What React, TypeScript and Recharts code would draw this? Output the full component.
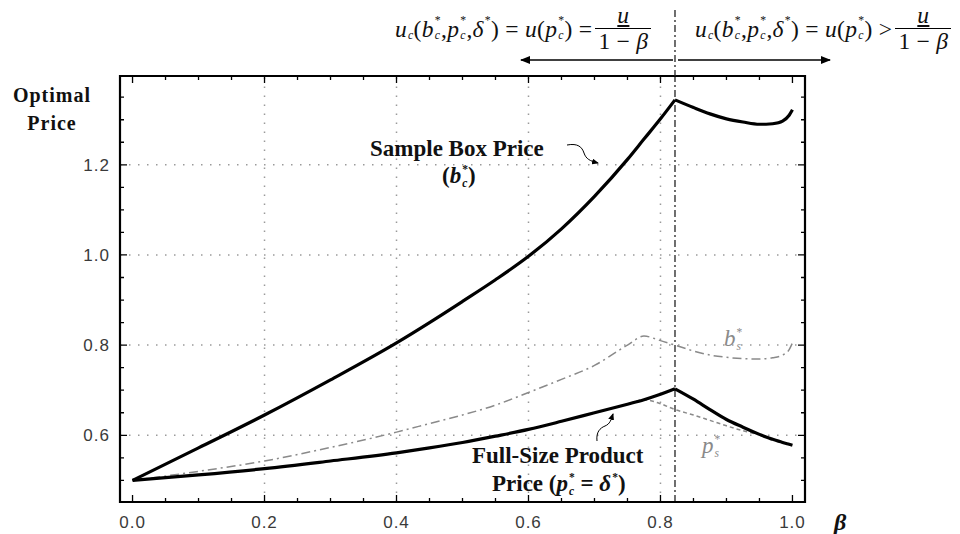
import React from 'react'
import { LineChart, Line, XAxis, YAxis, ReferenceLine } from 'recharts'

// beta grid and the four price curves
const beta = [0, 0.1, 0.2, 0.3, 0.4, 0.45, 0.5, 0.55, 0.6, 0.65, 0.7, 0.75, 0.775, 0.8, 0.822, 0.85, 0.875, 0.9, 0.925, 0.95, 0.96, 0.97, 0.985, 0.995, 1.0]
const sampleBox = [0.5, 0.572, 0.645, 0.723, 0.805, 0.85, 0.897, 0.945, 0.997, 1.058, 1.13, 1.212, 1.257, 1.302, 1.344, 1.327, 1.313, 1.302, 1.295, 1.29, 1.29, 1.291, 1.297, 1.31, 1.322]
const fullSize = [0.5, 0.512, 0.526, 0.543, 0.561, 0.572, 0.584, 0.598, 0.613, 0.631, 0.65, 0.669, 0.679, 0.691, 0.703, 0.68, 0.657, 0.635, 0.618, 0.602, 0.596, 0.591, 0.584, 0.58, 0.578]
const sampleBoxS = [0.5, 0.52, 0.543, 0.573, 0.607, 0.626, 0.645, 0.667, 0.695, 0.724, 0.755, 0.8, 0.82, 0.81, 0.8, 0.787, 0.778, 0.773, 0.77, 0.769, 0.77, 0.772, 0.778, 0.79, 0.805]
const fullSizeS = [0.5, 0.512, 0.526, 0.543, 0.561, 0.572, 0.584, 0.598, 0.613, 0.631, 0.65, 0.669, 0.679, 0.67, 0.657, 0.645, 0.633, 0.621, 0.61, 0.601, 0.597, null, null, null, null]

const xTicks = [0, 0.2, 0.4, 0.6, 0.8, 1.0]
const yTicks = [0.6, 0.8, 1.0, 1.2]
const xMinor = [0, 0.05, 0.1, 0.15, 0.2, 0.25, 0.3, 0.35, 0.4, 0.45, 0.5, 0.55, 0.6, 0.65, 0.7, 0.75, 0.8, 0.85, 0.9, 0.95, 1.0]
const yMinor = [0.5, 0.55, 0.6, 0.65, 0.7, 0.75, 0.8, 0.85, 0.9, 0.95, 1.0, 1.05, 1.1, 1.15, 1.2, 1.25, 1.3, 1.35]
const xGrid = [0.2, 0.4, 0.6, 0.8]
const yGrid = [0.6, 0.8, 1.0, 1.2]

const KINK = 0.822
const X0 = -0.019, X1 = 1.019
const Y0 = 0.452, Y1 = 1.397

// plot box (chart margins + axis sizes below)
const PL = 120, PT = 76, PW = 685, PH = 426
const sx = (v: number) => PL + ((v - X0) / (X1 - X0)) * PW
const sy = (v: number) => PT + ((Y1 - v) / (Y1 - Y0)) * PH

// curves with a corner at the kink are split in two so the corner stays sharp
const rows = beta.map((b, i) => ({
  beta: b,
  bcL: b <= KINK ? sampleBox[i] : null,
  bcR: b >= KINK ? sampleBox[i] : null,
  pcL: b <= KINK ? fullSize[i] : null,
  pcR: b >= KINK ? fullSize[i] : null,
  bs: sampleBoxS[i],
  ps: fullSizeS[i],
}))

const isMajor = (list: number[], v: number) => list.some(t => Math.abs(t - v) < 1e-9)
const tickLen = (major: boolean) => (major ? 7 : 4)

const serif = '"Liberation Serif", "Times New Roman", serif'
const sans = '"Liberation Sans", Arial, sans-serif'
const tickStyle = { fill: '#3a3a3a', fontSize: 17, fontFamily: sans, letterSpacing: 1 }
const fmt = (v: number) => v.toFixed(1)

const Sym = ({ b, sub, sup }: { b: string; sub?: string; sup?: string }) => (
  <span style={{ display: 'inline-flex', alignItems: 'center' }}>
    <span style={{ fontStyle: 'italic' }}>{b}</span>
    <span style={{ display: 'inline-flex', flexDirection: 'column', fontSize: '0.5em', lineHeight: 1.25, marginLeft: 1 }}>
      <span>{sup ?? '\u00a0'}</span>
      <span style={{ fontStyle: 'italic' }}>{sub ?? '\u00a0'}</span>
    </span>
  </span>
)

const Frac = () => (
  <span style={{ display: 'inline-flex', flexDirection: 'column', alignItems: 'center', marginLeft: 6 }}>
    <span style={{ borderBottom: '1.5px solid #000', lineHeight: 1.05, padding: '0 3px', width: '100%', textAlign: 'center' }}>
      <span style={{ fontStyle: 'italic', textDecoration: 'underline' }}>u</span>
    </span>
    <span style={{ lineHeight: 1.1 }}>1 − <i>β</i></span>
  </span>
)

const Formula = ({ rel, left }: { rel: string; left: number }) => (
  <div style={{ position: 'absolute', left, top: 4, height: 50, display: 'flex', alignItems: 'center', fontFamily: serif, fontSize: 23.5, letterSpacing: 0.3, whiteSpace: 'nowrap', color: '#111' }}>
    <Sym b="u" sub="c" />
    <span>(</span>
    <Sym b="b" sub="c" sup="*" />
    <span>,</span>
    <Sym b="p" sub="c" sup="*" />
    <span>,</span>
    <Sym b="δ" sup="*" />
    <span>)&nbsp;=&nbsp;</span>
    <i>u</i>
    <span>(</span>
    <Sym b="p" sub="c" sup="*" />
    <span>)&nbsp;{rel}</span>
    <Frac />
  </div>
)

const boldLabel = { position: 'absolute' as const, fontFamily: serif, fontWeight: 'bold' as const, fontSize: 23, whiteSpace: 'nowrap' as const, color: '#111' }

// inward ticks on all four sides of the plot
const PlotTicks = () => {
  const bottom = sy(Y0), top = sy(Y1), left = sx(X0), right = sx(X1)
  const segs: string[] = []
  xMinor.forEach(t => {
    const l = tickLen(isMajor(xTicks, t))
    segs.push(`M${sx(t)},${bottom}v${-l}`, `M${sx(t)},${top}v${l}`)
  })
  yMinor.forEach(t => {
    const l = tickLen(isMajor(yTicks, t))
    segs.push(`M${left},${sy(t)}h${l}`, `M${right},${sy(t)}h${-l}`)
  })
  return (
    <g>
      <path d={`M${left},${top}H${right}V${bottom}H${left}Z`} fill="none" stroke="#000" strokeWidth={2.2} />
      <path d={segs.join('')} fill="none" stroke="#000" strokeWidth={1.3} />
    </g>
  )
}

export default function App() {
  return (
    <div style={{ position: 'absolute', left: 0, top: 0, width: 960, height: 534, background: '#fff' }}>
      <LineChart width={960} height={534} data={rows} margin={{ top: PT, right: 960 - PL - PW, left: 80, bottom: 0 }}>
        <XAxis dataKey="beta" type="number" domain={[X0, X1]} allowDataOverflow ticks={xTicks} interval={0}
          tickFormatter={fmt} axisLine={false} tickLine={false} tickSize={0} tickMargin={14} height={534 - PT - PH} tick={tickStyle} />
        <YAxis type="number" domain={[Y0, Y1]} allowDataOverflow ticks={yTicks} interval={0}
          tickFormatter={fmt} axisLine={false} tickLine={false} tickSize={0} tickMargin={10} width={PL - 80} tick={tickStyle} />

        {xGrid.map(v => <ReferenceLine key={'gx' + v} x={v} stroke="#9a9a9a" strokeWidth={1.5} strokeDasharray="1.5 7.5" />)}
        {yGrid.map(v => <ReferenceLine key={'gy' + v} y={v} stroke="#9a9a9a" strokeWidth={1.5} strokeDasharray="1.5 7.5" />)}

        <ReferenceLine x={KINK} stroke="#222" strokeWidth={1.3} strokeDasharray="7 3 2 3" />

        <Line dataKey="bs" type="monotone" stroke="#8a8a8a" strokeWidth={1.5} strokeDasharray="9 4 2 4" dot={false} isAnimationActive={false} />
        <Line dataKey="ps" type="monotone" stroke="#8a8a8a" strokeWidth={1.5} strokeDasharray="4 3" dot={false} isAnimationActive={false} />
        <Line dataKey="bcL" type="monotone" stroke="#000" strokeWidth={3.2} dot={false} isAnimationActive={false} />
        <Line dataKey="bcR" type="monotone" stroke="#000" strokeWidth={3.2} dot={false} isAnimationActive={false} />
        <Line dataKey="pcL" type="monotone" stroke="#000" strokeWidth={3.2} dot={false} isAnimationActive={false} />
        <Line dataKey="pcR" type="monotone" stroke="#000" strokeWidth={3.2} dot={false} isAnimationActive={false} />
      </LineChart>

      {/* plot frame also as an html border */}
      <div style={{ position: 'absolute', left: PL - 1, top: PT - 1, width: PW + 2, height: PH + 2, boxSizing: 'border-box', border: '2px solid #000', pointerEvents: 'none' }} />

      <svg width={960} height={534} style={{ position: 'absolute', left: 0, top: 0, pointerEvents: 'none' }}>
        <defs>
          <marker id="ah" markerWidth="10" markerHeight="8" refX="9" refY="4" orient="auto" markerUnits="userSpaceOnUse">
            <path d="M0,0 L10,4 L0,8 Z" fill="#000" />
          </marker>
          <marker id="sh" markerWidth="7" markerHeight="6" refX="6" refY="3" orient="auto" markerUnits="userSpaceOnUse">
            <path d="M0,0 L7,3 L0,6 Z" fill="#000" />
          </marker>
        </defs>
        <PlotTicks />
        <line x1={sx(KINK)} y1={10} x2={sx(KINK)} y2={PT} stroke="#222" strokeWidth={1.3} strokeDasharray="7 3 2 3" />
        <line x1={sx(KINK) - 2} y1={60} x2={521} y2={60} stroke="#000" strokeWidth={1.4} markerEnd="url(#ah)" />
        <line x1={sx(KINK) + 3} y1={60} x2={830} y2={60} stroke="#000" strokeWidth={1.4} markerEnd="url(#ah)" />
        <path d="M567,145 C578,143 582,147 584,153 C586,159 590,161 598,163" fill="none" stroke="#000" strokeWidth={1} markerEnd="url(#sh)" />
        <path d="M597,441 C596,432 600,428 605,426 C610,424 611,420 613,414" fill="none" stroke="#000" strokeWidth={1} markerEnd="url(#sh)" />
      </svg>

      <Formula rel="=" left={395} />
      <Formula rel=">" left={695} />

      <div style={{ position: 'absolute', left: 0, top: 81, width: 104, textAlign: 'center', fontFamily: serif, fontWeight: 'bold', fontSize: 20, lineHeight: '28px', letterSpacing: 1, color: '#111' }}>
        Optimal<br />Price
      </div>

      <div style={{ ...boldLabel, left: 370, top: 136, lineHeight: '26px' }}>Sample Box Price</div>
      <div style={{ ...boldLabel, left: 442, top: 162, height: 28, display: 'flex', alignItems: 'center' }}>
        <span>(</span><Sym b="b" sub="c" sup="*" /><span>)</span>
      </div>

      <div style={{ ...boldLabel, left: 472, top: 443, lineHeight: '26px' }}>Full-Size Product</div>
      <div style={{ ...boldLabel, left: 492, top: 470, height: 28, display: 'flex', alignItems: 'center' }}>
        <span>Price (</span><Sym b="p" sub="c" sup="*" /><span>&nbsp;=&nbsp;</span><Sym b="δ" sup="*" /><span>)</span>
      </div>

      <div style={{ position: 'absolute', left: 724, top: 325, height: 28, display: 'flex', alignItems: 'center', fontFamily: serif, fontSize: 23, color: '#8a8a8a' }}>
        <Sym b="b" sub="s" sup="*" />
      </div>
      <div style={{ position: 'absolute', left: 702, top: 432, height: 28, display: 'flex', alignItems: 'center', fontFamily: serif, fontSize: 23, color: '#8a8a8a' }}>
        <Sym b="p" sub="s" sup="*" />
      </div>

      <div style={{ position: 'absolute', left: 834, top: 508, fontFamily: serif, fontWeight: 'bold', fontStyle: 'italic', fontSize: 24, lineHeight: '28px', color: '#111' }}>
        β
      </div>
    </div>
  )
}
